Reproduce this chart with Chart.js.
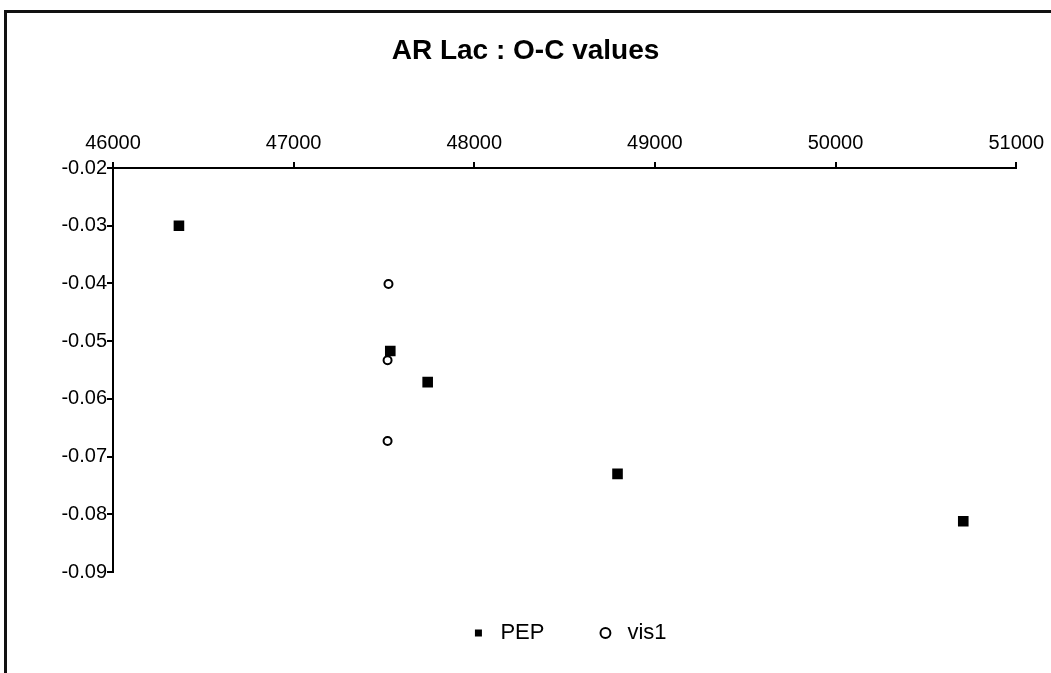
<!DOCTYPE html>
<html>
<head>
<meta charset="utf-8">
<script src="https://cdn.jsdelivr.net/npm/chart.js@4"></script>
<style>
    body { margin: 0; background: #fff; }
    #frame {
        position: absolute; left: 4px; top: 10px; width: 1100px; height: 661px;
        border-left: 3px solid #111; border-top: 3px solid #111; border-bottom: 1px solid #ccc;
    }
    #wrap { position: absolute; left: 0; top: 0; width: 1051px; height: 673px; }
</style>
</head>
<body>
<div id="frame"></div>
<div id="wrap"><canvas id="myChart" width="1051" height="673"></canvas></div>
<script>
//values
const pepX = [46365, 47535, 47742, 48793, 50707];
const pepY = [-0.0300, -0.0517, -0.0571, -0.0730, -0.0812];
const visX = [47525, 47520, 47520];
const visY = [-0.0401, -0.0533, -0.0673];

//tick labels
const xTicks = [46000, 47000, 48000, 49000, 50000, 51000];
const yTicks = [-0.02, -0.03, -0.04, -0.05, -0.06, -0.07, -0.08, -0.09];

//create object of points {x,y}
function toPoints(xs, ys){
    let data = [];
    for(let i=0;i<xs.length;i++){
        data.push({x: xs[i], y: ys[i]});
    }
    return data;
}

const font = 'Liberation Sans, Arial, sans-serif';

const data = {
    datasets: [
        {
            label: 'PEP',
            data: toPoints(pepX, pepY),
            pointStyle: 'rect',
            pointRadius: 7.5,
            backgroundColor: '#000',
            borderColor: '#000',
            borderWidth: 0
        },
        {
            label: 'vis1',
            data: toPoints(visX, visY),
            pointStyle: 'circle',
            pointRadius: 4,
            backgroundColor: '#fff',
            borderColor: '#000',
            borderWidth: 2
        }
    ]
};

const config = {
    type: 'scatter',
    data: data,
    options: {
        responsive: false,
        animation: false,
        devicePixelRatio: 1,
        layout: {
            autoPadding: false,
            padding: {left: 34, right: 34, top: 0, bottom: 19}
        },
        plugins: {
            title: {
                display: true,
                text: 'AR Lac : O-C values',
                color: '#000',
                font: {family: font, size: 28, weight: 'bold'},
                padding: {top: 34, bottom: 0}
            },
            legend: {
                position: 'bottom',
                onClick: function(){},
                labels: {
                    usePointStyle: true,
                    boxHeight: 7,
                    padding: 50,
                    color: '#000',
                    font: {family: font, size: 22},
                    //empty first item pushes the legend a bit to the right
                    generateLabels: function(chart){
                        let items = Chart.defaults.plugins.legend.labels.generateLabels(chart);
                        items.unshift({
                            text: '',
                            fillStyle: 'rgba(0,0,0,0)',
                            strokeStyle: 'rgba(0,0,0,0)',
                            lineWidth: 0,
                            pointStyle: 'circle',
                            hidden: false,
                            datasetIndex: -1
                        });
                        return items;
                    }
                }
            },
            tooltip: {enabled: false}
        },
        scales: {
            x: {
                type: 'linear',
                position: 'top',
                min: 46000,
                max: 51000,
                afterBuildTicks: function(axis){
                    axis.ticks = xTicks.map(v => ({value: v}));
                },
                afterFit: function(axis){
                    axis.height = 100.4;
                },
                ticks: {
                    color: '#000',
                    padding: 7,
                    maxRotation: 0,
                    font: {family: font, size: 20},
                    callback: function(value){ return '' + value; }
                },
                grid: {
                    drawOnChartArea: false,
                    color: '#000',
                    lineWidth: 2,
                    tickLength: 6
                },
                border: {color: '#000', width: 2}
            },
            y: {
                type: 'linear',
                position: 'left',
                min: -0.09,
                max: -0.02,
                afterBuildTicks: function(axis){
                    axis.ticks = yTicks.map(v => ({value: v}));
                },
                afterFit: function(axis){
                    axis.width = 79;
                },
                ticks: {
                    color: '#000',
                    padding: 0,
                    font: {family: font, size: 20},
                    callback: function(value){ return value.toFixed(2); }
                },
                grid: {
                    drawOnChartArea: false,
                    color: '#000',
                    lineWidth: 2,
                    tickLength: 6
                },
                border: {color: '#000', width: 2}
            }
        }
    }
};

const ctx = document.getElementById('myChart').getContext('2d');
const myChart = new Chart(ctx, config);
</script>
</body>
</html>
